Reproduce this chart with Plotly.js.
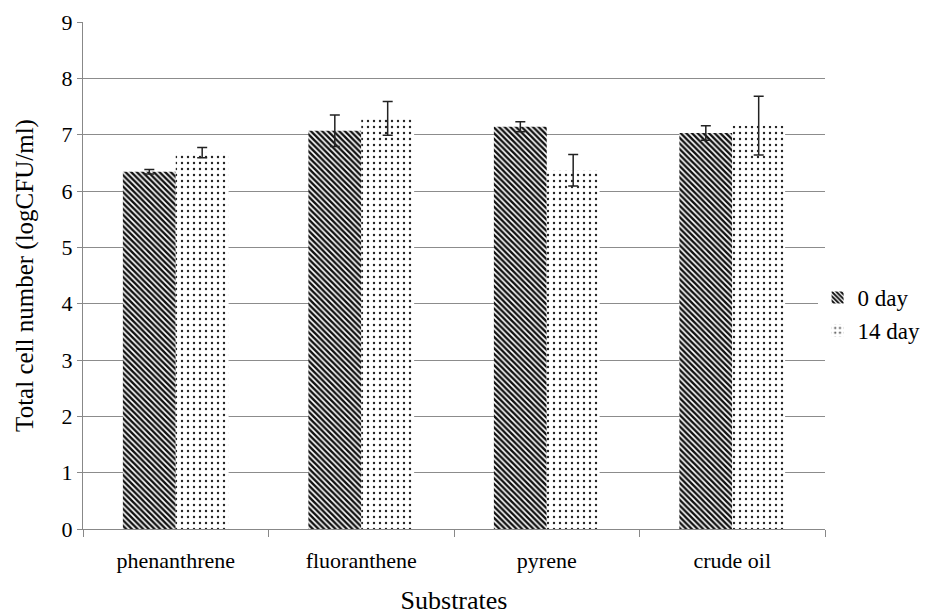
<!DOCTYPE html>
<html>
<head>
<meta charset="utf-8">
<script src="https://cdn.plot.ly/plotly-3.0.1.min.js"></script>
<style>html,body{margin:0;padding:0;background:#fff;}#chart{width:945px;height:615px;}</style>
</head>
<body>
<div id="chart"></div>
<script>
const categories = ["phenanthrene", "fluoranthene", "pyrene", "crude oil"];
const day0Values = [6.34, 7.07, 7.14, 7.03];
const day0Errors = [0.04, 0.28, 0.09, 0.13];
const day14Values = [6.68, 7.29, 6.37, 7.16];
const day14Errors = [0.09, 0.30, 0.28, 0.52];
const seriesNames = ["0 day", "14 day"];
const yTicks = [0, 1, 2, 3, 4, 5, 6, 7, 8, 9];

const errStyle = {type: "data", visible: true, color: "#222", thickness: 1.5, width: 5};

const traces = [
  {
    type: "bar", name: seriesNames[0], x: categories, y: day0Values,
    error_y: Object.assign({array: day0Errors}, errStyle),
    marker: {color: "#ffffff", line: {width: 0},
      pattern: {shape: "\\", size: 4, solidity: 0.6, fgcolor: "#111", bgcolor: "#ffffff"}}
  },
  {
    type: "bar", name: seriesNames[1], x: categories, y: day14Values,
    error_y: Object.assign({array: day14Errors}, errStyle),
    marker: {color: "#ffffff", line: {width: 0},
      pattern: {shape: ".", size: 6, solidity: 0.12, fgcolor: "#222", bgcolor: "#ffffff"}}
  }
];

const serif = "'Liberation Serif', 'Times New Roman', serif";

const layout = {
  width: 945, height: 615,
  margin: {l: 83, r: 120, t: 22, b: 86},
  paper_bgcolor: "#fff", plot_bgcolor: "#fff",
  font: {family: serif, color: "#000", size: 22},
  barmode: "group", bargap: 0.43, bargroupgap: 0,
  showlegend: true,
  legend: {x: 0.99, y: 0.424, xanchor: "left", yanchor: "middle", font: {family: serif, size: 23}, itemwidth: 30},
  xaxis: {
    type: "category", tickson: "boundaries", ticks: "outside", ticklen: 7, tickcolor: "#888",
    showline: true, linecolor: "#888", linewidth: 1, showgrid: false,
    tickfont: {family: serif, size: 22}, ticklabelstandoff: 12,
    title: {text: "Substrates", font: {family: serif, size: 26}, standoff: 20}
  },
  yaxis: {
    range: [0, 9], tickvals: yTicks, ticks: "outside", ticklen: 5, tickcolor: "#888",
    showline: true, linecolor: "#888", linewidth: 1,
    showgrid: true, gridcolor: "#8c8c8c", gridwidth: 1, zeroline: false,
    tickfont: {family: serif, size: 22},
    title: {text: "Total cell number (logCFU/ml)", font: {family: serif, size: 25}, standoff: 20}
  }
};

Plotly.newPlot("chart", traces, layout, {displayModeBar: false, staticPlot: true});
</script>
</body>
</html>
